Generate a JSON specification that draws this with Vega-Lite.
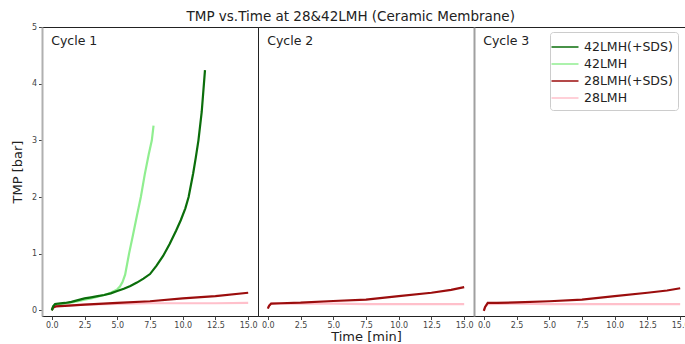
{
  "$schema": "https://vega.github.io/schema/vega-lite/v6.json",
  "padding": {"left": 10, "top": 10, "right": 0, "bottom": 0},
  "background": "white",
  "bounds": "flush",
  "title": {"text": "TMP vs.Time at 28&42LMH (Ceramic Membrane)", "fontSize": 13.5, "font": "DejaVu Sans", "fontWeight": "normal", "anchor": "middle", "offset": -1, "color": "#222222"},
  "config": {
    "font": "DejaVu Sans",
    "view": {"stroke": "#222222", "strokeWidth": 1},
    "axis": {"grid": false, "labelFontSize": 8, "labelColor": "#444444", "tickColor": "#444444", "tickSize": 3.5, "labelPadding": 2, "titleFontSize": 13, "titleFontWeight": "normal", "titleColor": "#222222", "titleFont": "DejaVu Sans", "labelFont": "DejaVu Sans", "labelOverlap": false, "labelFlush": false},
    "legend": {"orient": "none", "legendX": 508, "legendY": 5, "strokeColor": "#cccccc", "cornerRadius": 3, "padding": 5, "fillColor": "white", "labelFontSize": 12.5, "labelFont": "DejaVu Sans", "labelColor": "#222222", "symbolType": "M-1.5,0H1.5", "symbolSize": 324, "symbolStrokeWidth": 1.5, "symbolFillColor": "transparent", "rowPadding": 0, "labelOffset": 9}
  },
  "datasets": {
    "tmp": [
      {"cycle": 1, "series": "28LMH", "t": 0, "v": 0.02},
      {"cycle": 1, "series": "28LMH", "t": 0.2, "v": 0.06},
      {"cycle": 1, "series": "28LMH", "t": 0.5, "v": 0.08},
      {"cycle": 1, "series": "28LMH", "t": 2.5, "v": 0.1},
      {"cycle": 1, "series": "28LMH", "t": 5, "v": 0.115},
      {"cycle": 1, "series": "28LMH", "t": 7.5, "v": 0.125},
      {"cycle": 1, "series": "28LMH", "t": 10, "v": 0.125},
      {"cycle": 1, "series": "28LMH", "t": 12.5, "v": 0.125},
      {"cycle": 1, "series": "28LMH", "t": 15, "v": 0.13},
      {"cycle": 2, "series": "28LMH", "t": 0, "v": 0.05},
      {"cycle": 2, "series": "28LMH", "t": 0.1, "v": 0.09},
      {"cycle": 2, "series": "28LMH", "t": 0.3, "v": 0.12},
      {"cycle": 2, "series": "28LMH", "t": 2.5, "v": 0.12},
      {"cycle": 2, "series": "28LMH", "t": 5, "v": 0.12},
      {"cycle": 2, "series": "28LMH", "t": 7.5, "v": 0.11},
      {"cycle": 2, "series": "28LMH", "t": 10, "v": 0.11},
      {"cycle": 2, "series": "28LMH", "t": 12.5, "v": 0.11},
      {"cycle": 2, "series": "28LMH", "t": 15, "v": 0.11},
      {"cycle": 3, "series": "28LMH", "t": 0, "v": 0.0},
      {"cycle": 3, "series": "28LMH", "t": 0.1, "v": 0.06},
      {"cycle": 3, "series": "28LMH", "t": 0.3, "v": 0.11},
      {"cycle": 3, "series": "28LMH", "t": 2.5, "v": 0.12},
      {"cycle": 3, "series": "28LMH", "t": 5, "v": 0.11},
      {"cycle": 3, "series": "28LMH", "t": 10, "v": 0.11},
      {"cycle": 3, "series": "28LMH", "t": 15, "v": 0.11},
      {"cycle": 1, "series": "42LMH", "t": 0, "v": 0},
      {"cycle": 1, "series": "42LMH", "t": 0.1, "v": 0.06},
      {"cycle": 1, "series": "42LMH", "t": 0.25, "v": 0.1},
      {"cycle": 1, "series": "42LMH", "t": 0.5, "v": 0.11},
      {"cycle": 1, "series": "42LMH", "t": 1, "v": 0.12},
      {"cycle": 1, "series": "42LMH", "t": 1.5, "v": 0.14},
      {"cycle": 1, "series": "42LMH", "t": 2, "v": 0.16},
      {"cycle": 1, "series": "42LMH", "t": 2.5, "v": 0.19},
      {"cycle": 1, "series": "42LMH", "t": 3, "v": 0.21},
      {"cycle": 1, "series": "42LMH", "t": 3.5, "v": 0.24},
      {"cycle": 1, "series": "42LMH", "t": 4, "v": 0.27},
      {"cycle": 1, "series": "42LMH", "t": 4.5, "v": 0.31},
      {"cycle": 1, "series": "42LMH", "t": 5, "v": 0.37},
      {"cycle": 1, "series": "42LMH", "t": 5.2, "v": 0.42},
      {"cycle": 1, "series": "42LMH", "t": 5.4, "v": 0.5},
      {"cycle": 1, "series": "42LMH", "t": 5.6, "v": 0.63},
      {"cycle": 1, "series": "42LMH", "t": 5.9, "v": 1.0},
      {"cycle": 1, "series": "42LMH", "t": 6.2, "v": 1.33},
      {"cycle": 1, "series": "42LMH", "t": 6.5, "v": 1.67},
      {"cycle": 1, "series": "42LMH", "t": 6.8, "v": 2.0},
      {"cycle": 1, "series": "42LMH", "t": 7.1, "v": 2.4},
      {"cycle": 1, "series": "42LMH", "t": 7.4, "v": 2.75},
      {"cycle": 1, "series": "42LMH", "t": 7.64, "v": 3.0},
      {"cycle": 1, "series": "42LMH", "t": 7.77, "v": 3.26},
      {"cycle": 1, "series": "28LMH(+SDS)", "t": 0, "v": 0},
      {"cycle": 1, "series": "28LMH(+SDS)", "t": 0.1, "v": 0.05},
      {"cycle": 1, "series": "28LMH(+SDS)", "t": 0.3, "v": 0.07},
      {"cycle": 1, "series": "28LMH(+SDS)", "t": 1, "v": 0.08},
      {"cycle": 1, "series": "28LMH(+SDS)", "t": 2.5, "v": 0.1},
      {"cycle": 1, "series": "28LMH(+SDS)", "t": 5, "v": 0.13},
      {"cycle": 1, "series": "28LMH(+SDS)", "t": 7.5, "v": 0.16},
      {"cycle": 1, "series": "28LMH(+SDS)", "t": 10, "v": 0.21},
      {"cycle": 1, "series": "28LMH(+SDS)", "t": 12.5, "v": 0.25},
      {"cycle": 1, "series": "28LMH(+SDS)", "t": 15, "v": 0.31},
      {"cycle": 2, "series": "28LMH(+SDS)", "t": 0, "v": 0.03},
      {"cycle": 2, "series": "28LMH(+SDS)", "t": 0.1, "v": 0.08},
      {"cycle": 2, "series": "28LMH(+SDS)", "t": 0.25, "v": 0.12},
      {"cycle": 2, "series": "28LMH(+SDS)", "t": 1, "v": 0.125},
      {"cycle": 2, "series": "28LMH(+SDS)", "t": 2.5, "v": 0.135},
      {"cycle": 2, "series": "28LMH(+SDS)", "t": 5, "v": 0.165},
      {"cycle": 2, "series": "28LMH(+SDS)", "t": 7.5, "v": 0.19},
      {"cycle": 2, "series": "28LMH(+SDS)", "t": 10, "v": 0.25},
      {"cycle": 2, "series": "28LMH(+SDS)", "t": 12.5, "v": 0.31},
      {"cycle": 2, "series": "28LMH(+SDS)", "t": 14, "v": 0.36},
      {"cycle": 2, "series": "28LMH(+SDS)", "t": 15, "v": 0.41},
      {"cycle": 3, "series": "28LMH(+SDS)", "t": 0, "v": -0.01},
      {"cycle": 3, "series": "28LMH(+SDS)", "t": 0.1, "v": 0.06},
      {"cycle": 3, "series": "28LMH(+SDS)", "t": 0.3, "v": 0.13},
      {"cycle": 3, "series": "28LMH(+SDS)", "t": 1, "v": 0.13},
      {"cycle": 3, "series": "28LMH(+SDS)", "t": 2.5, "v": 0.14},
      {"cycle": 3, "series": "28LMH(+SDS)", "t": 5, "v": 0.16},
      {"cycle": 3, "series": "28LMH(+SDS)", "t": 7.5, "v": 0.19},
      {"cycle": 3, "series": "28LMH(+SDS)", "t": 10, "v": 0.25},
      {"cycle": 3, "series": "28LMH(+SDS)", "t": 12.5, "v": 0.31},
      {"cycle": 3, "series": "28LMH(+SDS)", "t": 14, "v": 0.35},
      {"cycle": 3, "series": "28LMH(+SDS)", "t": 15, "v": 0.39},
      {"cycle": 1, "series": "42LMH(+SDS)", "t": 0, "v": 0},
      {"cycle": 1, "series": "42LMH(+SDS)", "t": 0.1, "v": 0.07},
      {"cycle": 1, "series": "42LMH(+SDS)", "t": 0.25, "v": 0.11},
      {"cycle": 1, "series": "42LMH(+SDS)", "t": 0.5, "v": 0.12},
      {"cycle": 1, "series": "42LMH(+SDS)", "t": 1, "v": 0.13},
      {"cycle": 1, "series": "42LMH(+SDS)", "t": 1.5, "v": 0.15},
      {"cycle": 1, "series": "42LMH(+SDS)", "t": 2, "v": 0.18},
      {"cycle": 1, "series": "42LMH(+SDS)", "t": 2.5, "v": 0.21},
      {"cycle": 1, "series": "42LMH(+SDS)", "t": 3, "v": 0.23},
      {"cycle": 1, "series": "42LMH(+SDS)", "t": 3.5, "v": 0.25},
      {"cycle": 1, "series": "42LMH(+SDS)", "t": 4, "v": 0.27},
      {"cycle": 1, "series": "42LMH(+SDS)", "t": 4.5, "v": 0.3},
      {"cycle": 1, "series": "42LMH(+SDS)", "t": 5, "v": 0.34},
      {"cycle": 1, "series": "42LMH(+SDS)", "t": 5.5, "v": 0.38},
      {"cycle": 1, "series": "42LMH(+SDS)", "t": 6, "v": 0.43},
      {"cycle": 1, "series": "42LMH(+SDS)", "t": 6.5, "v": 0.49},
      {"cycle": 1, "series": "42LMH(+SDS)", "t": 7, "v": 0.56},
      {"cycle": 1, "series": "42LMH(+SDS)", "t": 7.5, "v": 0.64},
      {"cycle": 1, "series": "42LMH(+SDS)", "t": 8, "v": 0.79},
      {"cycle": 1, "series": "42LMH(+SDS)", "t": 8.5, "v": 0.96},
      {"cycle": 1, "series": "42LMH(+SDS)", "t": 9, "v": 1.17},
      {"cycle": 1, "series": "42LMH(+SDS)", "t": 9.5, "v": 1.41},
      {"cycle": 1, "series": "42LMH(+SDS)", "t": 9.85, "v": 1.59},
      {"cycle": 1, "series": "42LMH(+SDS)", "t": 10.2, "v": 1.8},
      {"cycle": 1, "series": "42LMH(+SDS)", "t": 10.45, "v": 2.0},
      {"cycle": 1, "series": "42LMH(+SDS)", "t": 10.8, "v": 2.42},
      {"cycle": 1, "series": "42LMH(+SDS)", "t": 11.0, "v": 2.7},
      {"cycle": 1, "series": "42LMH(+SDS)", "t": 11.2, "v": 3.0},
      {"cycle": 1, "series": "42LMH(+SDS)", "t": 11.45, "v": 3.5},
      {"cycle": 1, "series": "42LMH(+SDS)", "t": 11.62, "v": 4.0},
      {"cycle": 1, "series": "42LMH(+SDS)", "t": 11.7, "v": 4.24}
    ]
  },
  "hconcat": [
    {
      "width": 216, "height": 289,
      "encoding": {
        "x": {"field": "t", "type": "quantitative", "scale": {"domain": [-0.75, 15.75], "nice": false, "zero": false}, "axis": {"values": [0, 2.5, 5, 7.5, 10, 12.5, 15], "format": ".1f", "title": null, "domain": false, "labelOverlap": false, "labelFlush": false}},
        "y": {"field": "v", "type": "quantitative", "scale": {"domain": [-0.1, 5], "nice": false, "zero": false}, "axis": {"values": [0, 1, 2, 3, 4, 5], "format": "d", "title": "TMP [bar]", "titlePadding": 7, "domain": true, "domainColor": "#b0b0b0", "domainWidth": 2}}
      },
      "layer": [
        {
          "data": {"name": "tmp"},
          "transform": [{"filter": "datum.cycle == 1"}],
          "mark": {"type": "line", "strokeWidth": 2.2, "clip": true},
          "encoding": {
            "color": {"field": "series", "type": "nominal", "scale": {"domain": ["42LMH(+SDS)", "42LMH", "28LMH(+SDS)", "28LMH"], "range": ["#0b6e0b", "#90ee90", "#9b0d0d", "#ffc0cb"]}, "legend": {"title": null}},
            "detail": {"field": "series"}
          }
        },
        {
          "data": {"values": [{"t": -0.05, "v": 4.76, "label": "Cycle 1"}]},
          "mark": {"type": "text", "align": "left", "baseline": "middle", "fontSize": 12.5, "font": "DejaVu Sans", "color": "#222222"},
          "encoding": {"text": {"field": "label"}}
        }
      ]
    },
    {
      "width": 216, "height": 289,
      "encoding": {
        "x": {"field": "t", "type": "quantitative", "scale": {"domain": [-0.75, 15.75], "nice": false, "zero": false}, "axis": {"values": [0, 2.5, 5, 7.5, 10, 12.5, 15], "format": ".1f", "title": "Time [min]", "titlePadding": 1, "domain": false, "labelOverlap": false, "labelFlush": false}},
        "y": {"field": "v", "type": "quantitative", "scale": {"domain": [-0.1, 5], "nice": false, "zero": false}, "axis": null}
      },
      "layer": [
        {
          "data": {"name": "tmp"},
          "transform": [{"filter": "datum.cycle == 2"}],
          "mark": {"type": "line", "strokeWidth": 2.2, "clip": true},
          "encoding": {
            "color": {"field": "series", "type": "nominal", "scale": {"domain": ["42LMH(+SDS)", "42LMH", "28LMH(+SDS)", "28LMH"], "range": ["#0b6e0b", "#90ee90", "#9b0d0d", "#ffc0cb"]}, "legend": {"title": null}},
            "detail": {"field": "series"}
          }
        },
        {
          "data": {"values": [{"t": -0.05, "v": 4.76, "label": "Cycle 2"}]},
          "mark": {"type": "text", "align": "left", "baseline": "middle", "fontSize": 12.5, "font": "DejaVu Sans", "color": "#222222"},
          "encoding": {"text": {"field": "label"}}
        }
      ]
    },
    {
      "width": 216, "height": 289,
      "encoding": {
        "x": {"field": "t", "type": "quantitative", "scale": {"domain": [-0.75, 15.75], "nice": false, "zero": false}, "axis": {"values": [0, 2.5, 5, 7.5, 10, 12.5, 15], "format": ".1f", "title": null, "domain": false, "labelOverlap": false, "labelFlush": false}},
        "y": {"field": "v", "type": "quantitative", "scale": {"domain": [-0.1, 5], "nice": false, "zero": false}, "axis": {"labels": false, "ticks": false, "title": null, "domain": true, "domainColor": "#a0a0a0", "domainWidth": 2, "minExtent": 0, "maxExtent": 0}}
      },
      "layer": [
        {
          "data": {"name": "tmp"},
          "transform": [{"filter": "datum.cycle == 3"}],
          "mark": {"type": "line", "strokeWidth": 2.2, "clip": true},
          "encoding": {
            "color": {"field": "series", "type": "nominal", "scale": {"domain": ["42LMH(+SDS)", "42LMH", "28LMH(+SDS)", "28LMH"], "range": ["#0b6e0b", "#90ee90", "#9b0d0d", "#ffc0cb"]}, "legend": {"title": null}},
            "detail": {"field": "series"}
          }
        },
        {
          "data": {"values": [{"t": -0.05, "v": 4.76, "label": "Cycle 3"}]},
          "mark": {"type": "text", "align": "left", "baseline": "middle", "fontSize": 12.5, "font": "DejaVu Sans", "color": "#222222"},
          "encoding": {"text": {"field": "label"}}
        }
      ]
    }
  ],
  "spacing": 0
}
